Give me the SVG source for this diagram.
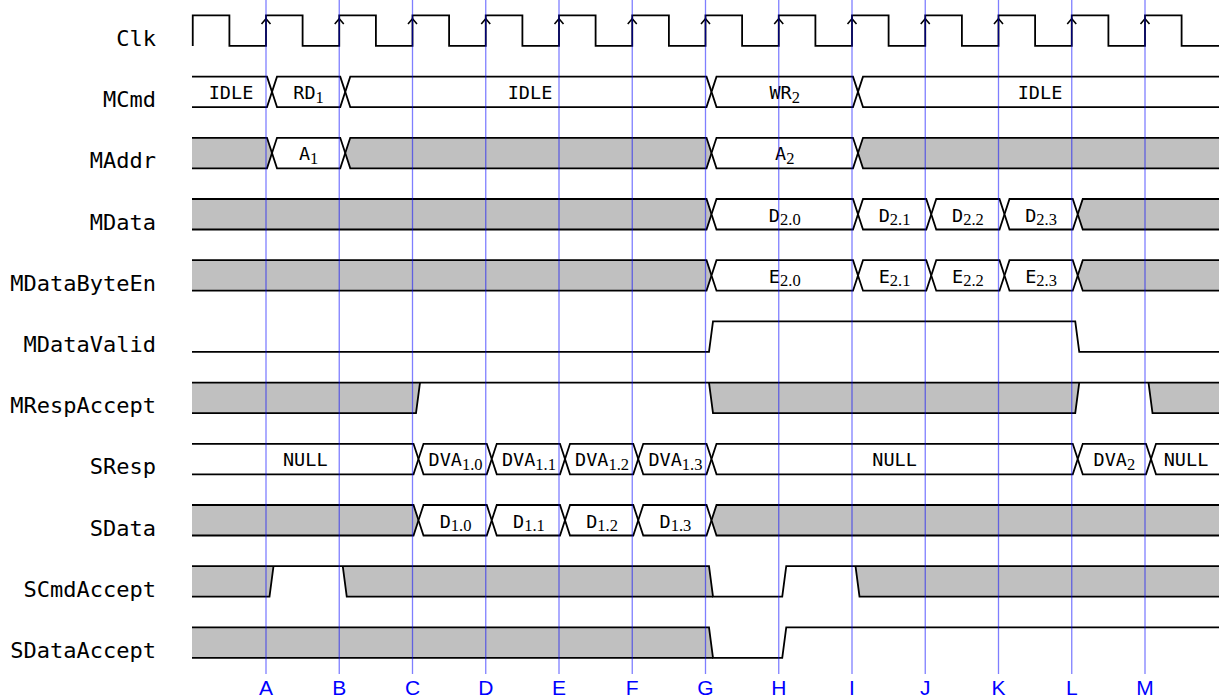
<svg xmlns="http://www.w3.org/2000/svg" xmlns:xlink="http://www.w3.org/1999/xlink" width="1224" height="699" viewBox="0 0 1224 699">
<style>
  .lbl { font-family: "DejaVu Sans Mono", monospace; font-size: 22px; text-anchor: end; fill: #000; }
  .val { font-family: "DejaVu Sans Mono", monospace; font-size: 18.5px; text-anchor: middle; fill: #000; }
  .sub { font-family: "Liberation Serif", serif; font-size: 16.5px; }
  .ln { fill: none; stroke: #000; stroke-width: 1.8; stroke-linejoin: miter; }
  .w { fill: #fff; stroke: #000; stroke-width: 1.8; }
  .g { fill: #c0c0c0; stroke: #000; stroke-width: 1.8; }
  .gf { fill: #c0c0c0; stroke: none; }
  .guide { stroke: #0000ff; stroke-opacity: 0.5; stroke-width: 1.3; }
  .tick { font-family: "Liberation Sans", Arial, sans-serif; font-size: 21px; text-anchor: middle; fill: #0000ff; }
</style>
<defs>
  <path id="arr" d="M-4.5,8.5 L0,3.3 L4.5,8.5" fill="none" stroke="#000" stroke-width="1.6"/>
</defs>
<rect width="1224" height="699" fill="#fff"/>

<g id="Clk" transform="translate(0,15.4)">
  <text class="lbl" x="156" y="30.5">Clk</text>
  <path class="ln" d="M192.75,30.5 V0 H229.4 V30.5 H266 V0 H302.6 V30.5 H339.25 V0 H375.9 V30.5 H412.5 V0 H449.1 V30.5 H485.75 V0 H522.4 V30.5 H559 V0 H595.6 V30.5 H632.25 V0 H668.9 V30.5 H705.5 V0 H742.1 V30.5 H778.75 V0 H815.4 V30.5 H852 V0 H888.6 V30.5 H925.25 V0 H961.9 V30.5 H998.5 V0 H1035.1 V30.5 H1071.75 V0 H1108.4 V30.5 H1145 V0 H1181.6 V30.5 H1219"/>
  <use xlink:href="#arr" x="266"/><use xlink:href="#arr" x="339.25"/><use xlink:href="#arr" x="412.5"/>
  <use xlink:href="#arr" x="485.75"/><use xlink:href="#arr" x="559"/><use xlink:href="#arr" x="632.25"/>
  <use xlink:href="#arr" x="705.5"/><use xlink:href="#arr" x="778.75"/><use xlink:href="#arr" x="852"/>
  <use xlink:href="#arr" x="925.25"/><use xlink:href="#arr" x="998.5"/><use xlink:href="#arr" x="1071.75"/>
  <use xlink:href="#arr" x="1145"/>
</g>

<g id="MCmd" transform="translate(0,76.6)">
  <text class="lbl" x="156" y="30.5">MCmd</text>
  <path class="w" d="M192,0 H267 L272,15.25 L267,30.5 H192"/>
  <path class="w" d="M272,15.25 L277,0 H340.25 L345.25,15.25 L340.25,30.5 H277 Z"/>
  <path class="w" d="M345.25,15.25 L350.25,0 H706.5 L711.5,15.25 L706.5,30.5 H350.25 Z"/>
  <path class="w" d="M711.5,15.25 L716.5,0 H853 L858,15.25 L853,30.5 H716.5 Z"/>
  <path class="w" d="M1219,0 H863 L858,15.25 L863,30.5 H1219"/>
  <text class="val" x="231" y="22.5">IDLE</text>
  <text class="val" x="308.6" y="22.5">RD<tspan class="sub" dy="3.5">1</tspan></text>
  <text class="val" x="530" y="22.5">IDLE</text>
  <text class="val" x="784.75" y="22.5">WR<tspan class="sub" dy="3.5">2</tspan></text>
  <text class="val" x="1040" y="22.5">IDLE</text>
</g>

<g id="MAddr" transform="translate(0,137.8)">
  <text class="lbl" x="156" y="30.5">MAddr</text>
  <path class="g" d="M192,0 H267 L272,15.25 L267,30.5 H192"/>
  <path class="w" d="M272,15.25 L277,0 H340.25 L345.25,15.25 L340.25,30.5 H277 Z"/>
  <path class="g" d="M345.25,15.25 L350.25,0 H706.5 L711.5,15.25 L706.5,30.5 H350.25 Z"/>
  <path class="w" d="M711.5,15.25 L716.5,0 H853 L858,15.25 L853,30.5 H716.5 Z"/>
  <path class="g" d="M1219,0 H863 L858,15.25 L863,30.5 H1219"/>
  <text class="val" x="308.6" y="22.5">A<tspan class="sub" dy="3.5">1</tspan></text>
  <text class="val" x="784.75" y="22.5">A<tspan class="sub" dy="3.5">2</tspan></text>
</g>

<g id="MData" transform="translate(0,199)">
  <text class="lbl" x="156" y="30.5">MData</text>
  <path class="g" d="M192,0 H706.5 L711.5,15.25 L706.5,30.5 H192"/>
  <path class="w" d="M711.5,15.25 L716.5,0 H853 L858,15.25 L853,30.5 H716.5 Z"/>
  <path class="w" d="M858,15.25 L863,0 H926.25 L931.25,15.25 L926.25,30.5 H863 Z"/>
  <path class="w" d="M931.25,15.25 L936.25,0 H999.5 L1004.5,15.25 L999.5,30.5 H936.25 Z"/>
  <path class="w" d="M1004.5,15.25 L1009.5,0 H1072.75 L1077.75,15.25 L1072.75,30.5 H1009.5 Z"/>
  <path class="g" d="M1219,0 H1082.75 L1077.75,15.25 L1082.75,30.5 H1219"/>
  <text class="val" x="784.75" y="22.5">D<tspan class="sub" dy="3.5">2.0</tspan></text>
  <text class="val" x="894.6" y="22.5">D<tspan class="sub" dy="3.5">2.1</tspan></text>
  <text class="val" x="967.9" y="22.5">D<tspan class="sub" dy="3.5">2.2</tspan></text>
  <text class="val" x="1041.1" y="22.5">D<tspan class="sub" dy="3.5">2.3</tspan></text>
</g>

<g id="MDataByteEn" transform="translate(0,260.2)">
  <text class="lbl" x="156" y="30.5">MDataByteEn</text>
  <path class="g" d="M192,0 H706.5 L711.5,15.25 L706.5,30.5 H192"/>
  <path class="w" d="M711.5,15.25 L716.5,0 H853 L858,15.25 L853,30.5 H716.5 Z"/>
  <path class="w" d="M858,15.25 L863,0 H926.25 L931.25,15.25 L926.25,30.5 H863 Z"/>
  <path class="w" d="M931.25,15.25 L936.25,0 H999.5 L1004.5,15.25 L999.5,30.5 H936.25 Z"/>
  <path class="w" d="M1004.5,15.25 L1009.5,0 H1072.75 L1077.75,15.25 L1072.75,30.5 H1009.5 Z"/>
  <path class="g" d="M1219,0 H1082.75 L1077.75,15.25 L1082.75,30.5 H1219"/>
  <text class="val" x="784.75" y="22.5">E<tspan class="sub" dy="3.5">2.0</tspan></text>
  <text class="val" x="894.6" y="22.5">E<tspan class="sub" dy="3.5">2.1</tspan></text>
  <text class="val" x="967.9" y="22.5">E<tspan class="sub" dy="3.5">2.2</tspan></text>
  <text class="val" x="1041.1" y="22.5">E<tspan class="sub" dy="3.5">2.3</tspan></text>
</g>

<g id="MDataValid" transform="translate(0,321.4)">
  <text class="lbl" x="156" y="30.5">MDataValid</text>
  <path class="ln" d="M192,30.5 H709 L713,0 H1075.25 L1079.25,30.5 H1219"/>
</g>

<g id="MRespAccept" transform="translate(0,382.6)">
  <text class="lbl" x="156" y="30.5">MRespAccept</text>
  <path class="gf" d="M192,0 H420 L416,30.5 H192 Z"/>
  <path class="gf" d="M709,0 H1079.25 L1075.25,30.5 H713 Z"/>
  <path class="gf" d="M1148.5,0 H1219 V30.5 H1152.5 Z"/>
  <path class="ln" d="M192,0 H1219"/>
  <path class="ln" d="M192,30.5 H416 L420,0"/>
  <path class="ln" d="M709,0 L713,30.5 H1075.25 L1079.25,0"/>
  <path class="ln" d="M1148.5,0 L1152.5,30.5 H1219"/>
</g>

<g id="SResp" transform="translate(0,443.8)">
  <text class="lbl" x="156" y="30.5">SResp</text>
  <path class="w" d="M192,0 H413.5 L418.5,15.25 L413.5,30.5 H192"/>
  <path class="w" d="M418.5,15.25 L423.5,0 H486.75 L491.75,15.25 L486.75,30.5 H423.5 Z"/>
  <path class="w" d="M491.75,15.25 L496.75,0 H560 L565,15.25 L560,30.5 H496.75 Z"/>
  <path class="w" d="M565,15.25 L570,0 H633.25 L638.25,15.25 L633.25,30.5 H570 Z"/>
  <path class="w" d="M638.25,15.25 L643.25,0 H706.5 L711.5,15.25 L706.5,30.5 H643.25 Z"/>
  <path class="w" d="M711.5,15.25 L716.5,0 H1072.75 L1077.75,15.25 L1072.75,30.5 H716.5 Z"/>
  <path class="w" d="M1077.75,15.25 L1082.75,0 H1146 L1151,15.25 L1146,30.5 H1082.75 Z"/>
  <path class="w" d="M1219,0 H1156 L1151,15.25 L1156,30.5 H1219"/>
  <text class="val" x="305.25" y="22.5">NULL</text>
  <text class="val" x="455.6" y="22.5">DVA<tspan class="sub" dy="3.5">1.0</tspan></text>
  <text class="val" x="528.9" y="22.5">DVA<tspan class="sub" dy="3.5">1.1</tspan></text>
  <text class="val" x="602.1" y="22.5">DVA<tspan class="sub" dy="3.5">1.2</tspan></text>
  <text class="val" x="675.4" y="22.5">DVA<tspan class="sub" dy="3.5">1.3</tspan></text>
  <text class="val" x="894.6" y="22.5">NULL</text>
  <text class="val" x="1114.4" y="22.5">DVA<tspan class="sub" dy="3.5">2</tspan></text>
  <text class="val" x="1186" y="22.5">NULL</text>
</g>

<g id="SData" transform="translate(0,505)">
  <text class="lbl" x="156" y="30.5">SData</text>
  <path class="g" d="M192,0 H413.5 L418.5,15.25 L413.5,30.5 H192"/>
  <path class="w" d="M418.5,15.25 L423.5,0 H486.75 L491.75,15.25 L486.75,30.5 H423.5 Z"/>
  <path class="w" d="M491.75,15.25 L496.75,0 H560 L565,15.25 L560,30.5 H496.75 Z"/>
  <path class="w" d="M565,15.25 L570,0 H633.25 L638.25,15.25 L633.25,30.5 H570 Z"/>
  <path class="w" d="M638.25,15.25 L643.25,0 H706.5 L711.5,15.25 L706.5,30.5 H643.25 Z"/>
  <path class="g" d="M1219,0 H716.5 L711.5,15.25 L716.5,30.5 H1219"/>
  <text class="val" x="455.6" y="22.5">D<tspan class="sub" dy="3.5">1.0</tspan></text>
  <text class="val" x="528.9" y="22.5">D<tspan class="sub" dy="3.5">1.1</tspan></text>
  <text class="val" x="602.1" y="22.5">D<tspan class="sub" dy="3.5">1.2</tspan></text>
  <text class="val" x="675.4" y="22.5">D<tspan class="sub" dy="3.5">1.3</tspan></text>
</g>

<g id="SCmdAccept" transform="translate(0,566.2)">
  <text class="lbl" x="156" y="30.5">SCmdAccept</text>
  <path class="gf" d="M192,0 H273.5 L269.5,30.5 H192 Z"/>
  <path class="gf" d="M342.75,0 H709 L713,30.5 H346.75 Z"/>
  <path class="gf" d="M855.5,0 H1219 V30.5 H859.5 Z"/>
  <path class="ln" d="M192,0 H709 L713,30.5 H782.25 L786.25,0 H1219"/>
  <path class="ln" d="M192,30.5 H269.5 L273.5,0"/>
  <path class="ln" d="M342.75,0 L346.75,30.5 H713"/>
  <path class="ln" d="M855.5,0 L859.5,30.5 H1219"/>
</g>

<g id="SDataAccept" transform="translate(0,627.4)">
  <text class="lbl" x="156" y="30.5">SDataAccept</text>
  <path class="gf" d="M192,0 H709 L713,30.5 H192 Z"/>
  <path class="ln" d="M192,0 H709 L713,30.5 H782.25 L786.25,0 H1219"/>
  <path class="ln" d="M192,30.5 H713"/>
</g>

<g id="connectors">
  <line class="guide" x1="266" y1="0" x2="266" y2="674"/>
  <line class="guide" x1="339.25" y1="0" x2="339.25" y2="674"/>
  <line class="guide" x1="412.5" y1="0" x2="412.5" y2="674"/>
  <line class="guide" x1="485.75" y1="0" x2="485.75" y2="674"/>
  <line class="guide" x1="559" y1="0" x2="559" y2="674"/>
  <line class="guide" x1="632.25" y1="0" x2="632.25" y2="674"/>
  <line class="guide" x1="705.5" y1="0" x2="705.5" y2="674"/>
  <line class="guide" x1="778.75" y1="0" x2="778.75" y2="674"/>
  <line class="guide" x1="852" y1="0" x2="852" y2="674"/>
  <line class="guide" x1="925.25" y1="0" x2="925.25" y2="674"/>
  <line class="guide" x1="998.5" y1="0" x2="998.5" y2="674"/>
  <line class="guide" x1="1071.75" y1="0" x2="1071.75" y2="674"/>
  <line class="guide" x1="1145" y1="0" x2="1145" y2="674"/>
</g>

<g id="ticks">
  <text class="tick" x="266" y="695">A</text>
  <text class="tick" x="339.25" y="695">B</text>
  <text class="tick" x="412.5" y="695">C</text>
  <text class="tick" x="485.75" y="695">D</text>
  <text class="tick" x="559" y="695">E</text>
  <text class="tick" x="632.25" y="695">F</text>
  <text class="tick" x="705.5" y="695">G</text>
  <text class="tick" x="778.75" y="695">H</text>
  <text class="tick" x="852" y="695">I</text>
  <text class="tick" x="925.25" y="695">J</text>
  <text class="tick" x="998.5" y="695">K</text>
  <text class="tick" x="1071.75" y="695">L</text>
  <text class="tick" x="1145" y="695">M</text>
</g>
</svg>
